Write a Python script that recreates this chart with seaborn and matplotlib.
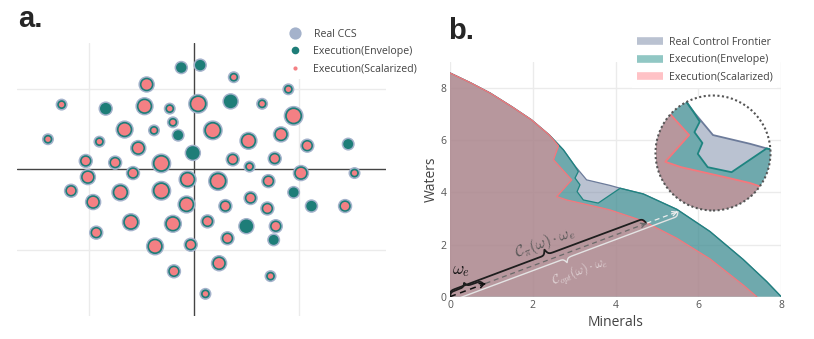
import numpy as np
import pandas as pd
import seaborn as sns
import matplotlib.pyplot as plt
from matplotlib.patches import Ellipse
from matplotlib.lines import Line2D

# ---- panel a : CCS points (embedding coords), magnitude, found by scalarized run
ccs_x = [-1.2, 0.6, 3.8, -4.5, 9.0, -12.6, -8.4, -4.7, -2.3, 0.4, 3.5, 6.5, 9.5, -2.0, -6.6, -3.8,
         1.8, -1.5, 8.3, -13.9, -9.0, -5.3, 5.2, 10.8, 14.7, -0.1, -10.3, -7.5, -3.1, 3.7, 7.7, 5.3,
         -5.8, -10.1, -0.6, 2.3, 10.2, 15.3, -11.7, -7.0, -3.1, 7.1, 5.4, 9.5, -9.6, -0.7, 3.0, 7.0,
         11.2, 14.4, -6.0, -2.0, 1.3, 5.0, 7.8, -9.3, 3.2, 7.6, -3.7, -0.3, 2.4, -1.9, 7.3, 1.1]
ccs_y = [12.6, 12.9, 11.4, 10.5, 9.9, 8.0, 7.5, 7.8, 7.5, 8.1, 8.4, 8.1, 6.6, 5.8, 4.9, 4.8,
         4.8, 4.2, 4.3, 3.7, 3.4, 2.6, 3.5, 2.9, 3.1, 2.0, 1.0, 0.8, 0.7, 1.2, 1.3, 0.3,
         -0.5, -1.0, -1.3, -1.5, -0.5, -0.5, -2.7, -2.9, -2.7, -1.5, -3.6, -2.9, -4.1, -4.4, -4.6, -4.9,
         -4.6, -4.6, -6.6, -6.8, -6.5, -7.1, -7.1, -7.9, -8.6, -8.8, -9.6, -9.4, -11.7, -12.7, -13.3, -15.5]
ccs_mag = [1.3, 1.3, 1, 2, 1, 1, 1.5, 2.5, 1, 3, 2, 1, 3, 1, 2.5, 1,
           3, 1.2, 2, 1, 1, 2, 2.5, 1.5, 1.2, 2, 1.5, 1.5, 3, 1.5, 1.5, 1,
           1.5, 2, 2.5, 3, 2, 1, 1.5, 2.5, 3, 1.5, 1.5, 1.2, 2, 2.5, 1.5, 1.5,
           1.3, 1.5, 2.5, 2.5, 1.5, 2, 1.5, 1.5, 1.5, 1.2, 2.5, 1.5, 2, 1.5, 1, 1]
scal_found = [0, 0, 1, 1, 1, 1, 0, 1, 1, 1, 0, 1, 1, 1, 1, 1,
              1, 0, 1, 1, 1, 1, 1, 1, 0, 0, 1, 1, 1, 1, 1, 1,
              1, 1, 1, 1, 1, 1, 1, 1, 1, 1, 1, 0, 1, 1, 1, 1,
              0, 1, 1, 1, 1, 0, 1, 1, 1, 0, 1, 1, 1, 1, 1, 1]

# ---- panel b : frontiers (Minerals, Waters)
real_x = [0, 0.5, 0.97, 1.5, 1.97, 2.4, 2.74, 3.0, 3.30, 3.86, 4.11, 4.67, 5.48, 6.28, 7.08, 7.65, 8.0]
real_y = [8.58, 8.2, 7.81, 7.28, 6.78, 6.2, 5.63, 5.05, 4.48, 4.27, 4.16, 3.94, 3.35, 2.50, 1.43, 0.58, 0.0]
env_x = [0, 0.5, 0.97, 1.5, 1.97, 2.4, 2.74, 3.0, 3.10, 3.02, 3.14, 3.07, 3.22, 3.58, 4.11, 4.67,
         5.48, 6.28, 7.08, 7.65, 8.0]
env_y = [8.58, 8.2, 7.81, 7.28, 6.78, 6.2, 5.63, 5.05, 4.80, 4.55, 4.29, 4.03, 3.71, 3.59, 4.16, 3.94,
         3.35, 2.50, 1.43, 0.58, 0.0]
scal_x = [0, 0.5, 0.97, 1.5, 1.97, 2.4, 2.62, 2.50, 2.94, 2.58, 2.82, 3.54, 3.86, 4.67, 5.48, 6.28, 7.08, 7.41]
scal_y = [8.58, 8.2, 7.81, 7.28, 6.78, 6.2, 5.78, 5.25, 4.48, 3.84, 3.71, 3.45, 3.33, 2.90, 2.24, 1.45, 0.45, 0.0]

omega_e = [0.86, 0.51]
c_pi = 5.52
c_opt = 6.40

labels_a = ['Real CCS', 'Execution(Envelope)', 'Execution(Scalarized)']
labels_b = ['Real Control Frontier', 'Execution(Envelope)', 'Execution(Scalarized)']

GREY = '#A4B2CB'
TEAL = '#1E7D78'
PINK = '#F48084'
F_GREY, F_TEAL, F_PINK = '#7787A5', '#25918A', '#FF868E'
L_GREY, L_TEAL, L_PINK = '#6C7B9A', '#1E8480', '#F5777C'

sns.set_style('white')
plt.rcParams['font.family'] = ['Open Sans', 'DejaVu Sans']
plt.rcParams['mathtext.fontset'] = 'cm'

W, H = 814, 339
fig = plt.figure(figsize=(W / 100, H / 100), dpi=100)

# ================= panel a
axa = fig.add_axes([17 / W, (H - 316) / H, 369 / W, 273 / H])
df = pd.DataFrame({'x': ccs_x, 'y': ccs_y, 'mag': ccs_mag, 'found': scal_found})
sns.scatterplot(data=df, x='x', y='y', size='mag', sizes=(75, 207), size_norm=(1, 3),
                color=GREY, linewidth=0, legend=False, ax=axa, zorder=3)
sns.scatterplot(data=df, x='x', y='y', size='mag', sizes=(40, 150), size_norm=(1, 3),
                color=TEAL, linewidth=0, legend=False, ax=axa, zorder=4)
sns.scatterplot(data=df[df.found == 1], x='x', y='y', size='mag', sizes=(15, 95), size_norm=(1, 3),
                color=PINK, linewidth=0, legend=False, ax=axa, zorder=5)
axa.set_xlim(-16.85, 18.3)
axa.set_ylim(-18.25, 15.65)
for v in (-10, 10):
    axa.axvline(v, color='#EBEBEB', lw=1, zorder=0)
    axa.axhline(v, color='#EBEBEB', lw=1, zorder=0)
axa.axvline(0, color='#444444', lw=1, zorder=1)
axa.axhline(0, color='#444444', lw=1, zorder=1)
axa.set_xticks([])
axa.set_yticks([])
axa.set_xlabel('')
axa.set_ylabel('')
sns.despine(ax=axa, left=True, bottom=True)

hand_a = [Line2D([], [], ls='', marker='o', ms=8.8, color=GREY, mec='none'),
          Line2D([], [], ls='', marker='o', ms=5.5, color=TEAL, mec='none'),
          Line2D([], [], ls='', marker='o', ms=3, color=PINK, mec='none')]
leg_a = fig.legend(hand_a, labels_a, loc='upper left', bbox_to_anchor=(285 / W, 1 - 24 / H),
                   frameon=True, fontsize=7.6, handlelength=0.95, handletextpad=1.3,
                   labelspacing=0.6, borderpad=0.45, borderaxespad=0, fancybox=False)
leg_a.get_frame().set_edgecolor('none')
leg_a.get_frame().set_facecolor('white')
leg_a.get_frame().set_alpha(1)
for t in leg_a.get_texts():
    t.set_color('#444444')

fig.text(18 / W, 1 - 27 / H, 'a.', fontsize=21, fontweight='bold',
         family='Liberation Sans', va='baseline')

# ================= panel b
axb = fig.add_axes([450 / W, (H - 296.7) / H, 331.2 / W, 234.7 / H])
axb.set_xlim(0, 8)
axb.set_ylim(0, 9)
axb.set_xticks([0, 2, 4, 6, 8])
axb.set_yticks([0, 2, 4, 6, 8])
axb.grid(True, color='#EBEBEB', lw=1)
axb.set_axisbelow(True)
sns.despine(ax=axb, left=True, bottom=True)
axb.tick_params(length=0, pad=2.5, labelsize=7.5, labelcolor='#555555')
axb.set_xlabel('Minerals', fontsize=10, color='#444444', labelpad=3)
axb.set_ylabel('Waters', fontsize=10, color='#444444', labelpad=1)


def region(ax, xs, ys, fill, line, z, lw=0.9):
    pts = np.column_stack([xs, ys]).astype(float)
    poly = np.vstack([[0, 0], pts])
    p = ax.fill(poly[:, 0], poly[:, 1], color=fill, alpha=0.5, lw=0, zorder=z)[0]
    ln = ax.plot(pts[:, 0], pts[:, 1], color=line, lw=lw, zorder=z + 0.5,
                 solid_joinstyle='round')[0]
    return [p, ln]


region(axb, real_x, real_y, F_GREY, L_GREY, 2)
region(axb, env_x, env_y, F_TEAL, L_TEAL, 3)
region(axb, scal_x, scal_y, F_PINK, L_PINK, 4)
axb.axhline(0, color='#9A9A9A', lw=0.8, zorder=4.8)

# magnified inset of the notch: own axes over a circle of radius 57.5 px
sx, sy = 331.2 / 8, 234.7 / 9
cx_px, cy_px, rad = 713, 153, 57.5
zoom_c = np.array([3.30, 4.05])
k = 1.6
axi = fig.add_axes([(cx_px - rad) / W, (H - cy_px - rad) / H, 2 * rad / W, 2 * rad / H])
axi.set_xlim(zoom_c[0] - rad / sx / k, zoom_c[0] + rad / sx / k)
axi.set_ylim(zoom_c[1] - rad / sy / k, zoom_c[1] + rad / sy / k)
axi.axis('off')
disk = Ellipse((0.5, 0.5), 1, 1, transform=axi.transAxes, facecolor='white', edgecolor='none', zorder=0)
axi.add_patch(disk)
arts = []
arts += region(axi, real_x, real_y, F_GREY, L_GREY, 2, lw=1.3)
arts += region(axi, env_x, env_y, F_TEAL, L_TEAL, 3, lw=1.3)
arts += region(axi, scal_x, scal_y, F_PINK, L_PINK, 4, lw=1.3)
for a in arts:
    a.set_clip_path(disk)
axi.add_patch(Ellipse((0.5, 0.5), 1, 1, transform=axi.transAxes, facecolor='none',
                      edgecolor='#555555', lw=1.5, ls=(0, (1, 1.2)), zorder=9, clip_on=False))

# braces and arrows (built in pixel space so they look the same as on the page)
u = np.array(omega_e)


def brace(a, b, h, side=1, beta=0.9):
    pa = np.array([a[0] * sx, a[1] * sy])
    pb = np.array([b[0] * sx, b[1] * sy])
    L = np.linalg.norm(pb - pa)
    d = (pb - pa) / L
    n = np.array([-d[1], d[0]]) * side
    t = np.linspace(0, L / 2, 200)
    half = 1 / (1 + np.exp(-beta * t)) + 1 / (1 + np.exp(-beta * (t - L / 2)))
    s = np.concatenate([t, L - t[::-1]])
    r = np.concatenate([half, half[::-1]]) - 0.5
    r = r / r.max() * h
    p = pa + np.outer(s, d) + np.outer(r, n)
    return p[:, 0] / sx, p[:, 1] / sy


bx, by = brace([0, 0], u * c_pi, 11, 1)
axb.plot(bx, by, color='#1E1E1E', lw=1.3, zorder=10)
bx, by = brace([0, 0], u * 0.95, 8, 1)
axb.plot(bx, by, color='#1E1E1E', lw=1.3, zorder=10)
bx, by = brace([0, 0], u * c_opt, 9, -1)
axb.plot(bx, by, color='#E4E4E4', lw=1.0, zorder=10)


def arrow(a, b, color, lw=1.0):
    axb.plot([a[0], b[0]], [a[1], b[1]], color=color, lw=lw, ls=(0, (4, 3)), zorder=10)
    axb.annotate('', xy=b, xytext=b - u * 0.05,
                 arrowprops=dict(arrowstyle='->', color=color, lw=lw,
                                 shrinkA=0, shrinkB=0, mutation_scale=8), zorder=10)


arrow(np.zeros(2), u * 1.0, '#111111', 1.1)
arrow(u * 1.0, u * c_pi, '#6A6A6A', 0.9)
arrow(u * c_pi, u * c_opt, '#EDEDED', 0.9)

ang = np.degrees(np.arctan2(u[1] * sy, u[0] * sx))
axb.text(0.26, 0.98, r'$\omega_e$', fontsize=12.5, color='#111111', ha='center', va='center',
         zorder=11)
axb.text(2.29, 2.06, r'$\mathcal{C}_\pi(\omega)\cdot\omega_e$', fontsize=11, color='#555555',
         rotation=ang, rotation_mode='anchor', ha='center', va='center', zorder=11)
axb.text(3.14, 0.96, r'$\mathcal{C}_{opt}(\omega)\cdot\omega_e$', fontsize=9, color='#E2D6D8',
         rotation=ang, rotation_mode='anchor', ha='center', va='center', zorder=11)

hand_b = [Line2D([], [], color=F_GREY, alpha=0.5, lw=5.5, solid_capstyle='butt'),
          Line2D([], [], color=F_TEAL, alpha=0.5, lw=5.5, solid_capstyle='butt'),
          Line2D([], [], color=F_PINK, alpha=0.5, lw=5.5, solid_capstyle='butt')]
leg_b = fig.legend(hand_b, labels_b, loc='upper left', bbox_to_anchor=(632 / W, 1 - 32 / H),
                   frameon=True, fontsize=7.6, handlelength=2.5, handletextpad=0.55,
                   labelspacing=0.62, borderpad=0.45, borderaxespad=0, fancybox=False)
leg_b.get_frame().set_edgecolor('none')
leg_b.get_frame().set_facecolor('white')
leg_b.get_frame().set_alpha(1)
leg_b.set_zorder(20)
for t in leg_b.get_texts():
    t.set_color('#444444')

fig.text(448 / W, 1 - 39 / H, 'b.', fontsize=21, fontweight='bold',
         family='Liberation Sans', va='baseline')

fig.savefig('out.png', dpi=100)
